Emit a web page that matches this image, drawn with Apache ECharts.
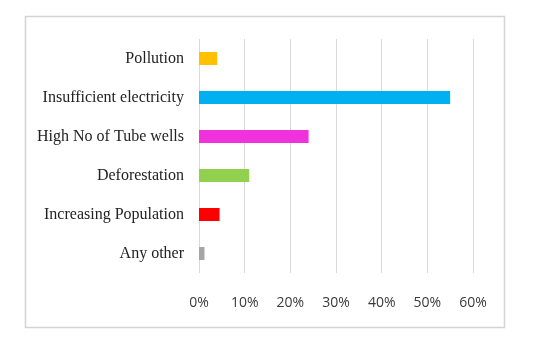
<!DOCTYPE html>
<html>
<head>
<meta charset="utf-8">
<script src="https://cdn.jsdelivr.net/npm/echarts@6/dist/echarts.min.js"></script>
<style>
  html, body { margin: 0; padding: 0; background: #fff; }
  #chart { width: 549px; height: 344px; }
</style>
</head>
<body>
<div id="chart"></div>
<script>
// categories top to bottom
const causes = ['Pollution', 'Insufficient electricity', 'High No of Tube wells', 'Deforestation', 'Increasing Population', 'Any other'];
// share of responses, percent
const shares = [4, 55, 24, 11, 4.5, 1.2];
const barColors = ['#FFC000', '#00B0F0', '#F032DC', '#92D050', '#FF0000', '#A6A6A6'];
const xTicks = [0, 10, 20, 30, 40, 50, 60];

const chart = echarts.init(document.getElementById('chart'));

chart.setOption({
  animation: false,
  graphic: [{
    type: 'rect',
    shape: { x: 25.5, y: 16.5, width: 479, height: 311 },
    style: { fill: 'none', stroke: '#d4d4d4', lineWidth: 1.5 },
    z: -1
  }],
  grid: { left: 199, right: 76, top: 39, bottom: 71 },
  xAxis: {
    type: 'value',
    min: xTicks[0],
    max: xTicks[xTicks.length - 1],
    interval: 10,
    axisLine: { show: false },
    axisTick: { show: false },
    splitLine: { lineStyle: { color: '#d9d9d9', width: 1 } },
    axisLabel: {
      formatter: '{value}%',
      margin: 23,
      fontFamily: 'Open Sans',
      fontSize: 14,
      color: '#3a3a3a'
    }
  },
  yAxis: {
    type: 'category',
    inverse: true,
    data: causes,
    axisLine: { show: false },
    axisTick: { show: false },
    axisLabel: {
      margin: 15,
      fontFamily: 'Liberation Serif',
      fontSize: 16,
      color: '#222'
    }
  },
  series: [{
    type: 'bar',
    barWidth: 13,
    data: shares.map((v, i) => ({ value: v, itemStyle: { color: barColors[i] } }))
  }]
});
</script>
</body>
</html>
